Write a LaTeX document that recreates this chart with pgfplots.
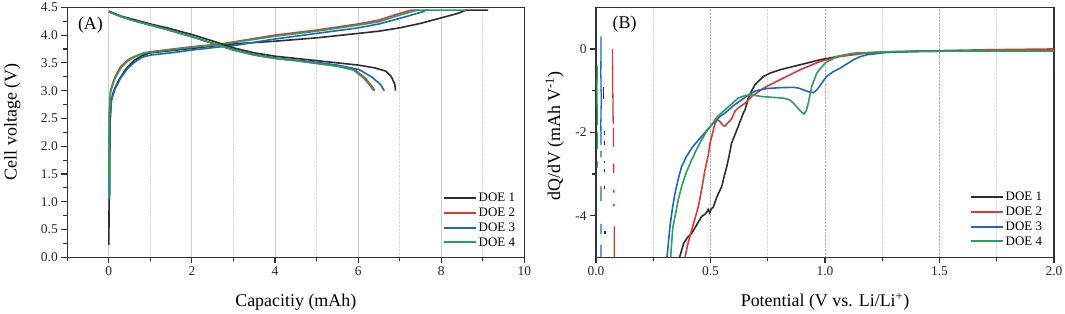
\documentclass[border=0pt]{standalone}
\usepackage{fontspec}
\setmainfont{Liberation Serif}
\usepackage{pgfplots}
\pgfplotsset{compat=1.18}
\definecolor{cblack}{RGB}{45,45,45}
\definecolor{cred}{RGB}{214,58,58}
\definecolor{cblue}{RGB}{34,102,187}
\definecolor{cgreen}{RGB}{44,158,92}
\definecolor{axc}{RGB}{50,50,50}
\pgfplotsset{
  common/.style={
    scale only axis, anchor=south west,
    width=457bp, height=250bp,
    /pgf/number format/assume math mode=true,
    tick label style={font=\fontsize{13.5}{13.5}\selectfont, text=black!85},
    label style={font=\fontsize{18}{20}\selectfont},
    axis line style={draw=axc, line width=1.1bp},
    tick style={draw=axc, line width=1.1bp},
    tick align=outside, xtick pos=bottom, ytick pos=left,
    major tick length=6bp, minor tick length=4bp,
    every axis plot/.append style={line width=1.6bp},
    legend style={draw=none, fill=none, anchor=north west,
      font=\fontsize{13}{13}\selectfont, row sep=1.8bp,
      inner sep=0pt, nodes={inner sep=1.5bp}},
    legend cell align=left,
    legend image code/.code={\draw[#1, line width=2bp] (0bp,0.3bp) -- (32bp,0.3bp);},
    unbounded coords=jump,
  }
}
\begin{document}
\begin{tikzpicture}[x=1bp,y=1bp]
% ---------------- (A) ----------------
\begin{axis}[common,
  at={(67.3bp,55.7bp)},
  xmin=-1, xmax=10, ymin=0, ymax=4.5,
  xtick={0,2,4,6,8,10}, minor xtick={-1,1,3,5,7,9},
  ytick={0,0.5,1,1.5,2,2.5,3,3.5,4,4.5},
  minor ytick={0.25,0.75,1.25,1.75,2.25,2.75,3.25,3.75,4.25},
  yticklabel style={/pgf/number format/.cd, fixed, fixed zerofill, precision=1},
  xmajorgrids, xminorgrids,
  major grid style={draw=gray!40, line width=0.9bp},
  minor grid style={draw=gray!30, densely dotted, line width=0.8bp},
  xlabel={Capacitiy (mAh)},
  ylabel={Cell voltage (V)},
  xlabel style={at={([yshift=-49.4bp]axis description cs:0.5,0)}, anchor=base},
  ylabel style={at={([xshift=-50.6bp]axis description cs:0,0.542)}, anchor=base},
  legend style={at={(0.822,0.2636)}},
]
% charge curves
\addplot[cblack] coordinates {(0,0.22)(0.01,1.5)(0.03,2.5)(0.06,2.82)(0.1,2.95)(0.15,3.05)(0.25,3.2)(0.4,3.38)(0.6,3.54)(0.8,3.63)(1.0,3.68)(1.5,3.72)(2.0,3.76)(2.7,3.82)(3.0,3.84)(4.0,3.89)(5.0,3.95)(6.0,4.03)(6.5,4.07)(7.0,4.13)(7.5,4.21)(8.0,4.31)(8.4,4.39)(8.6,4.45)(9.13,4.45)};
\addplot[cred] coordinates {(0,1.8)(0.01,2.6)(0.04,3.0)(0.1,3.15)(0.15,3.25)(0.28,3.43)(0.45,3.55)(0.6,3.61)(0.84,3.68)(1.0,3.70)(2.0,3.79)(2.7,3.84)(4.0,4.0)(5.0,4.09)(6.0,4.2)(6.5,4.27)(7.0,4.39)(7.28,4.45)(7.45,4.45)};
\addplot[cblue] coordinates {(0.02,1.05)(0.03,2.4)(0.06,2.83)(0.15,3.03)(0.28,3.22)(0.45,3.40)(0.6,3.50)(0.8,3.60)(1.0,3.64)(1.5,3.68)(2.0,3.73)(2.7,3.79)(3.0,3.81)(4.0,3.93)(5.0,4.03)(6.0,4.13)(6.5,4.2)(7.0,4.3)(7.56,4.42)(7.64,4.45)(7.7,4.45)};
\addplot[cgreen] coordinates {(0,1.05)(0.01,2.5)(0.04,2.97)(0.1,3.12)(0.15,3.22)(0.28,3.40)(0.45,3.53)(0.6,3.60)(0.84,3.67)(1.0,3.69)(2.0,3.78)(2.7,3.83)(4.0,3.98)(5.0,4.07)(6.0,4.18)(6.5,4.24)(7.0,4.36)(7.44,4.45)(8.6,4.45)};
\legend{DOE 1, DOE 2, DOE 3, DOE 4}
% discharge curves
\addplot[cblack, forget plot] coordinates {(0,4.43)(0.3,4.34)(0.6,4.28)(1.0,4.2)(1.4,4.13)(2.0,4.01)(2.6,3.87)(3.0,3.77)(3.5,3.68)(4.0,3.62)(4.5,3.58)(5.0,3.54)(5.5,3.5)(6.0,3.46)(6.4,3.41)(6.67,3.35)(6.8,3.25)(6.88,3.12)(6.9,3.0)};
\addplot[cred, forget plot] coordinates {(0,4.42)(0.3,4.33)(0.6,4.26)(1.0,4.18)(1.4,4.1)(2.0,3.97)(2.6,3.83)(3.0,3.73)(3.5,3.64)(4.0,3.58)(4.5,3.54)(5.0,3.49)(5.5,3.44)(5.93,3.37)(6.18,3.22)(6.34,3.07)(6.4,3.0)};
\addplot[cblue, forget plot] coordinates {(0,4.42)(0.3,4.33)(0.6,4.26)(1.0,4.18)(1.4,4.1)(2.0,3.97)(2.6,3.83)(3.0,3.74)(3.5,3.65)(4.0,3.59)(4.5,3.55)(5.0,3.51)(5.5,3.46)(6.02,3.38)(6.34,3.24)(6.54,3.11)(6.63,3.0)};
\addplot[cgreen, forget plot] coordinates {(0,4.42)(0.3,4.33)(0.6,4.26)(1.0,4.18)(1.4,4.1)(2.0,3.97)(2.6,3.83)(3.0,3.73)(3.5,3.64)(4.0,3.58)(4.5,3.54)(5.0,3.49)(5.5,3.44)(5.89,3.37)(6.14,3.22)(6.3,3.08)(6.37,3.0)};
\node[anchor=west, inner sep=0pt, font=\fontsize{18}{20}\selectfont] at (rel axis cs:0.023,0.929) {(A)};
\end{axis}
% ---------------- (B) ----------------
\begin{axis}[common,
  at={(596bp,55.7bp)}, width=458bp,
  xmin=0, xmax=2, ymin=-5, ymax=1,
  xtick={0,0.5,1,1.5,2}, minor xtick={0.25,0.75,1.25,1.75},
  ytick={-4,-2,0}, minor ytick={-3,-1},
  xticklabel style={/pgf/number format/.cd, fixed, fixed zerofill, precision=1},
  xmajorgrids, xminorgrids,
  major grid style={draw=gray!60, densely dotted, line width=0.9bp},
  minor grid style={draw=gray!30, densely dotted, line width=0.8bp},
  xlabel={Potential (V vs. Li/Li\textsuperscript{+})},
  ylabel={dQ/dV (mAh V\textsuperscript{-1})},
  xlabel style={at={([yshift=-49.4bp]axis description cs:0.5,0)}, anchor=base},
  ylabel style={at={([xshift=-36bp]axis description cs:0,0.485)}, anchor=base},
  legend style={at={(0.8166,0.2676)}},
]
\addplot[cblack] coordinates {(0.365,-5)(0.383,-4.66)(0.40,-4.52)(0.418,-4.42)(0.44,-4.22)(0.461,-4.02)(0.475,-3.97)(0.483,-3.92)(0.49,-3.85)(0.496,-3.93)(0.503,-3.84)(0.512,-3.8)(0.527,-3.56)(0.549,-3.3)(0.56,-3.05)(0.571,-2.82)(0.58,-2.6)(0.592,-2.26)(0.6,-2.15)(0.621,-1.86)(0.643,-1.54)(0.651,-1.46)(0.665,-1.18)(0.68,-1.0)(0.694,-0.86)(0.709,-0.78)(0.731,-0.66)(0.76,-0.58)(0.803,-0.5)(0.891,-0.38)(0.978,-0.26)(1.066,-0.17)(1.153,-0.1)(1.3,-0.07)(1.5,-0.05)(1.6,-0.04)};
\addplot[cred] coordinates {(0.389,-5)(0.4,-4.7)(0.418,-4.34)(0.447,-3.78)(0.462,-3.35)(0.476,-2.9)(0.49,-2.55)(0.498,-2.26)(0.51,-2.0)(0.52,-1.78)(0.53,-1.7)(0.541,-1.74)(0.556,-1.84)(0.563,-1.85)(0.575,-1.78)(0.592,-1.68)(0.606,-1.5)(0.621,-1.42)(0.651,-1.3)(0.68,-1.14)(0.716,-1.0)(0.738,-0.92)(0.803,-0.74)(0.891,-0.5)(0.978,-0.3)(1.066,-0.18)(1.182,-0.1)(1.4,-0.05)(1.7,-0.02)(2.0,0.0)};
\addplot[cblue] coordinates {(0.31,-5)(0.317,-4.6)(0.323,-4.26)(0.333,-3.85)(0.345,-3.46)(0.36,-3.1)(0.374,-2.82)(0.395,-2.58)(0.418,-2.38)(0.44,-2.23)(0.461,-2.1)(0.483,-1.96)(0.505,-1.82)(0.541,-1.62)(0.563,-1.54)(0.6,-1.36)(0.636,-1.22)(0.672,-1.08)(0.7,-1.0)(0.745,-0.95)(0.8,-0.93)(0.862,-0.92)(0.885,-0.94)(0.905,-0.98)(0.93,-1.03)(0.949,-1.05)(0.965,-0.98)(0.978,-0.88)(0.993,-0.76)(1.007,-0.66)(1.035,-0.55)(1.066,-0.46)(1.095,-0.36)(1.124,-0.26)(1.15,-0.19)(1.182,-0.14)(1.27,-0.08)(1.4,-0.06)(1.68,-0.04)};
\addplot[cgreen] coordinates {(0.326,-5)(0.335,-4.3)(0.345,-4.02)(0.36,-3.6)(0.374,-3.3)(0.395,-2.95)(0.418,-2.66)(0.44,-2.4)(0.461,-2.18)(0.483,-1.98)(0.505,-1.82)(0.527,-1.64)(0.563,-1.46)(0.592,-1.32)(0.621,-1.18)(0.65,-1.12)(0.68,-1.1)(0.72,-1.14)(0.768,-1.16)(0.818,-1.18)(0.845,-1.22)(0.862,-1.3)(0.878,-1.4)(0.891,-1.48)(0.908,-1.56)(0.918,-1.48)(0.927,-1.3)(0.942,-0.9)(0.964,-0.58)(1.0,-0.34)(1.051,-0.18)(1.124,-0.1)(1.3,-0.06)(1.6,-0.05)(2.0,-0.05)};
\legend{DOE 1, DOE 2, DOE 3, DOE 4}
% low-potential fragments
\addplot[cblue, forget plot, line width=1.3bp] coordinates {(0.022,0.3)(0.021,-0.6)(0.023,-1.2)(0.021,-1.8)(0.022,-2.3)(0.022,nan)(0.022,-2.45)(0.022,-2.6)(0.022,nan)(0.022,-3.3)(0.022,-3.65)(0.022,nan)(0.022,-4.2)(0.022,-4.45)(0.022,nan)(0.022,-4.7)(0.022,-5)};
\addplot[cred, forget plot, line width=1.3bp] coordinates {(0.072,0)(0.073,-0.8)(0.075,-1.8)(0.075,nan)(0.076,-1.9)(0.076,-2.35)(0.076,nan)(0.077,-2.75)(0.077,-2.98)(0.077,nan)(0.078,-3.38)(0.078,-3.45)(0.078,nan)(0.078,-3.72)(0.078,-3.78)(0.078,nan)(0.08,-4.26)(0.08,-5)};
\addplot[cgreen, forget plot, line width=1.3bp] coordinates {(0.006,-0.4)(0.004,-1.0)(0.006,-1.83)(0.006,nan)(0.005,-2.0)(0.005,-2.4)(0.005,nan)(0.005,-2.7)(0.005,-2.85)};
\addplot[cblack, forget plot, line width=1.3bp] coordinates {(0.034,-0.92)(0.034,-1.2)(0.034,nan)(0.036,-1.98)(0.036,-2.06)(0.036,nan)(0.036,-2.2)(0.036,-2.3)(0.036,nan)(0.037,-2.68)(0.037,-2.74)(0.037,nan)(0.037,-2.88)(0.037,-2.95)(0.037,nan)(0.038,-3.28)(0.038,-3.36)(0.038,nan)(0.039,-4.38)(0.039,-4.44)};
\node[anchor=west, inner sep=0pt, font=\fontsize{18}{20}\selectfont] at (rel axis cs:0.036,0.933) {(B)};
\end{axis}
\pgfresetboundingbox
\path[use as bounding box] (0,0) rectangle (1065,313);
\end{tikzpicture}
\end{document}
